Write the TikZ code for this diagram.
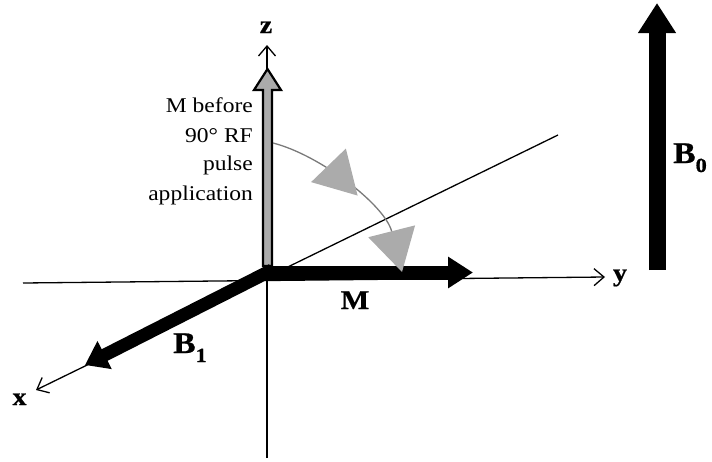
\documentclass[tikz,border=0pt]{standalone}
\usepackage{fontspec}
\setmainfont{Liberation Serif}[FakeStretch=1.12, BoldFeatures={FakeBold=0.8}]
\usetikzlibrary{arrows.meta,decorations.markings}
\definecolor{lightg}{HTML}{ABABAB}
\definecolor{curveg}{HTML}{7A7A7A}
\tikzset{
  axis/.style={line width=1.3pt, -{Straight Barb[length=10pt,width=17pt,line width=1.3pt]}},
  lbl/.style={inner sep=0pt, anchor=base},
  axlbl/.style={lbl, font=\bfseries\fontsize{25}{25}\selectfont},
  biglbl/.style={inner sep=0pt, anchor=base west, font=\bfseries\fontsize{30}{30}\selectfont},
  note/.style={inner sep=0pt, anchor=base east, font=\fontsize{21}{21}\selectfont},
  rotcurve/.style={draw=curveg, line width=1.3pt,
    -{Triangle[length=42pt,width=48pt,color=lightg]},
    postaction={decorate},
    decoration={markings, mark=at position 0.53 with {\arrow{Triangle[length=42pt,width=48pt,color=lightg]}}}}
}
\begin{document}
\begin{tikzpicture}[x=1pt,y=-1pt]
\useasboundingbox (0,0) rectangle (712,461);
% coordinates
\coordinate (zbot) at (267,458);
\coordinate (ztop) at (267,45);
\coordinate (yleft) at (23,283);
\coordinate (yright) at (605,277);
\coordinate (xfar) at (558,135);
\coordinate (xtip) at (36,390);
\coordinate (Mstart) at (264,272.5);
\coordinate (Mtip) at (473,272.5);
\coordinate (B1start) at (272,270);
\coordinate (B1tip) at (85,365);
\coordinate (B0bot) at (657,270);
\coordinate (B0tip) at (657,3);
\coordinate (cstart) at (273,143);
\coordinate (cend) at (402,272);
% axes
\draw[axis] (zbot) -- (ztop);
\draw[axis] (yleft) -- (yright);
\draw[axis] (xfar) -- (xtip);
% M before pulse (grey arrow)
\draw[fill=lightg, line width=2.2pt, line join=miter]
  (263,266) -- (263,90) -- (254,90) -- (267.5,69) -- (281,90) -- (272,90) -- (272,266) -- cycle;
% thick arrows
\draw[line width=14pt, -{Triangle[length=25pt,width=30pt]}] (Mstart) -- (Mtip);
\draw[line width=13pt, -{Triangle[length=22pt,width=30pt]}] (B1start) -- (B1tip);
\draw[line width=17pt, -{Triangle[length=30pt,width=36pt]}] (B0bot) -- (B0tip);
% rotation curve
\draw[rotcurve] (cstart) .. controls (320,155) and (385,205) .. (cend);
% labels
\node[axlbl] (zl) at (266,33) {z};
\node[axlbl] (xl) at (19.5,405) {x};
\node[axlbl] (yl) at (620,281) {y};
\node[lbl, font=\bfseries\fontsize{27}{27}\selectfont] (Ml) at (355,309) {M};
\node[biglbl] (B1l) at (173,353) {B\raisebox{-9pt}{\fontsize{20}{20}\selectfont 1}};
\node[biglbl] (B0l) at (673,163) {B\raisebox{-9pt}{\fontsize{20}{20}\selectfont 0}};
\node[note] (n1) at (253,112) {M before};
\node[note] (n2) at (253,142) {90° RF};
\node[note] (n3) at (253,170) {pulse};
\node[note] (n4) at (253,200) {application};
\end{tikzpicture}
\end{document}
